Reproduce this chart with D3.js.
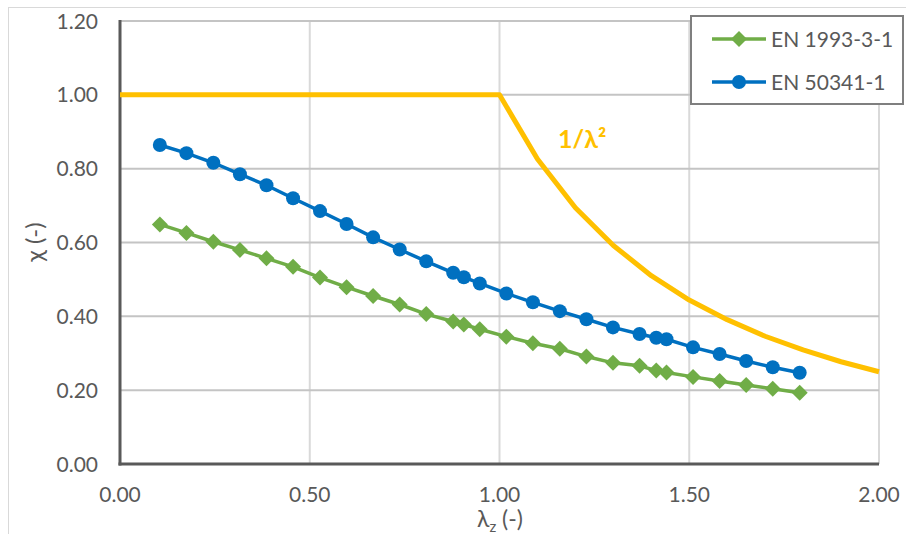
<!DOCTYPE html>
<html>
<head>
<meta charset="utf-8">
<script src="https://cdn.jsdelivr.net/npm/d3@7/dist/d3.min.js"></script>
<style>
  html, body { margin: 0; padding: 0; background: #fff; }
  svg { display: block; }
  text { font-family: Lato, "Open Sans", sans-serif; fill: #595959; }
</style>
</head>
<body>
<svg id="chart" width="906" height="534"></svg>
<script>
// Slenderness values shared by both code curves
const lambdaZ = [0.105, 0.175, 0.246, 0.316, 0.386, 0.456, 0.527, 0.597, 0.667, 0.737,
                 0.807, 0.878, 0.906, 0.948, 1.018, 1.088, 1.159, 1.229, 1.299, 1.369,
                 1.413, 1.440, 1.510, 1.580, 1.650, 1.720, 1.791];
const chiEN1993 = [0.649, 0.626, 0.602, 0.580, 0.557, 0.534, 0.505, 0.479, 0.455, 0.432,
                   0.406, 0.386, 0.378, 0.365, 0.345, 0.327, 0.312, 0.291, 0.274, 0.266,
                   0.253, 0.248, 0.236, 0.225, 0.214, 0.204, 0.193];
const chiEN50341 = [0.864, 0.842, 0.816, 0.785, 0.755, 0.720, 0.685, 0.650, 0.614, 0.581,
                    0.549, 0.518, 0.506, 0.489, 0.462, 0.438, 0.414, 0.392, 0.370, 0.352,
                    0.342, 0.338, 0.316, 0.298, 0.279, 0.262, 0.247];
// Euler limit curve (capped at 1.0)
const eulerLambda = [0.0, 1.0, 1.1, 1.2, 1.3, 1.4, 1.5, 1.6, 1.7, 1.8, 1.9, 2.0];
const eulerChi    = [1.0, 1.0, 0.826, 0.694, 0.592, 0.510, 0.444, 0.391, 0.346, 0.309, 0.277, 0.250];

const xTicks = [0, 0.5, 1.0, 1.5, 2.0];
const yTicks = [0, 0.2, 0.4, 0.6, 0.8, 1.0, 1.2];
const seriesNames = ["EN 1993-3-1", "EN 50341-1"];

const colors = { green: "#70AD47", blue: "#0070C0", gold: "#FFC000", axis: "#595959" };

const svg = d3.select("#chart");
svg.append("rect").attr("width", 906).attr("height", 534).attr("fill", "#fff");
// chart area frame
svg.append("rect").attr("x", 8.5).attr("y", 7.5).attr("width", 1000).attr("height", 1000)
  .attr("fill", "none").attr("stroke", "#d9d9d9").attr("stroke-width", 1);

const x = d3.scaleLinear().domain([0, 2]).range([120, 879]);
const y = d3.scaleLinear().domain([0, 1.2]).range([464, 21]);
const fmt = d3.format(".2f");

// gridlines
svg.append("g").selectAll("line").data(xTicks.slice(1)).join("line")
  .attr("x1", d => x(d)).attr("x2", d => x(d)).attr("y1", y(1.2)).attr("y2", y(0))
  .attr("stroke", "#d9d9d9").attr("stroke-width", 2);
svg.append("g").selectAll("line").data(yTicks.slice(1)).join("line")
  .attr("x1", x(0)).attr("x2", x(2)).attr("y1", d => y(d)).attr("y2", d => y(d))
  .attr("stroke", "#c4c4c4").attr("stroke-width", 2);

// axis lines
svg.append("line").attr("x1", x(0)).attr("x2", x(0)).attr("y1", y(1.2) - 1).attr("y2", y(0) + 1.5)
  .attr("stroke", colors.axis).attr("stroke-width", 3);
svg.append("line").attr("x1", x(0) - 1.5).attr("x2", x(2)).attr("y1", y(0)).attr("y2", y(0))
  .attr("stroke", colors.axis).attr("stroke-width", 3);

// tick labels
svg.append("g").selectAll("text").data(yTicks).join("text")
  .attr("x", 98).attr("y", d => y(d)).attr("dy", "0.36em")
  .attr("text-anchor", "end").attr("font-size", 21).text(d => fmt(d));
svg.append("g").selectAll("text").data(xTicks).join("text")
  .attr("x", d => x(d)).attr("y", 494).attr("dy", "0.36em")
  .attr("text-anchor", "middle").attr("font-size", 21).text(d => fmt(d));

// axis titles
svg.append("text").attr("transform", "translate(43,242) rotate(-90)")
  .attr("text-anchor", "middle").attr("font-size", 24).text("χ (-)");
const xt = svg.append("text").attr("x", 500).attr("y", 527)
  .attr("text-anchor", "middle").attr("font-size", 23);
xt.append("tspan").text("λ");
xt.append("tspan").attr("font-size", 15).attr("dy", 5).text("z");
xt.append("tspan").attr("dy", -5).text(" (-)");

const line = d3.line().x(d => x(d[0])).y(d => y(d[1]));

// Euler curve
svg.append("path").datum(eulerLambda.map((l, i) => [l, eulerChi[i]]))
  .attr("d", line).attr("fill", "none").attr("stroke", colors.gold).attr("stroke-width", 5)
  .attr("stroke-linejoin", "round");
svg.append("text").attr("x", 558).attr("y", 148).attr("font-size", 25).attr("font-weight", "bold")
  .style("fill", colors.gold).text("1/λ²");

const diamondShape = d3.symbol().type(d3.symbolSquare).size(128);

// EN 1993-3-1
const greenPts = lambdaZ.map((l, i) => [l, chiEN1993[i]]);
svg.append("path").datum(greenPts).attr("d", line).attr("fill", "none")
  .attr("stroke", colors.green).attr("stroke-width", 3.5);
svg.append("g").selectAll("path").data(greenPts).join("path")
  .attr("transform", d => `translate(${x(d[0])},${y(d[1])}) rotate(45)`)
  .attr("d", diamondShape).attr("fill", colors.green);

// EN 50341-1
const bluePts = lambdaZ.map((l, i) => [l, chiEN50341[i]]);
svg.append("path").datum(bluePts).attr("d", line).attr("fill", "none")
  .attr("stroke", colors.blue).attr("stroke-width", 3.5);
svg.append("g").selectAll("circle").data(bluePts).join("circle")
  .attr("cx", d => x(d[0])).attr("cy", d => y(d[1])).attr("r", 7).attr("fill", colors.blue);

// legend
const lg = svg.append("g");
lg.append("rect").attr("x", 691).attr("y", 16).attr("width", 212).attr("height", 88)
  .attr("fill", "#fff").attr("stroke", "#7f7f7f").attr("stroke-width", 2);
const legendRows = [
  { name: seriesNames[0], color: colors.green, shape: "diamond", cy: 39 },
  { name: seriesNames[1], color: colors.blue, shape: "circle", cy: 82 }
];
legendRows.forEach(r => {
  lg.append("line").attr("x1", 712).attr("x2", 766).attr("y1", r.cy).attr("y2", r.cy)
    .attr("stroke", r.color).attr("stroke-width", 3.5);
  if (r.shape === "circle") {
    lg.append("circle").attr("cx", 739).attr("cy", r.cy).attr("r", 7).attr("fill", r.color);
  } else {
    lg.append("path").attr("transform", `translate(739,${r.cy}) rotate(45)`)
      .attr("d", diamondShape).attr("fill", r.color);
  }
  lg.append("text").attr("x", 771).attr("y", r.cy).attr("dy", "0.36em")
    .attr("font-size", 21).text(r.name);
});
</script>
</body>
</html>
